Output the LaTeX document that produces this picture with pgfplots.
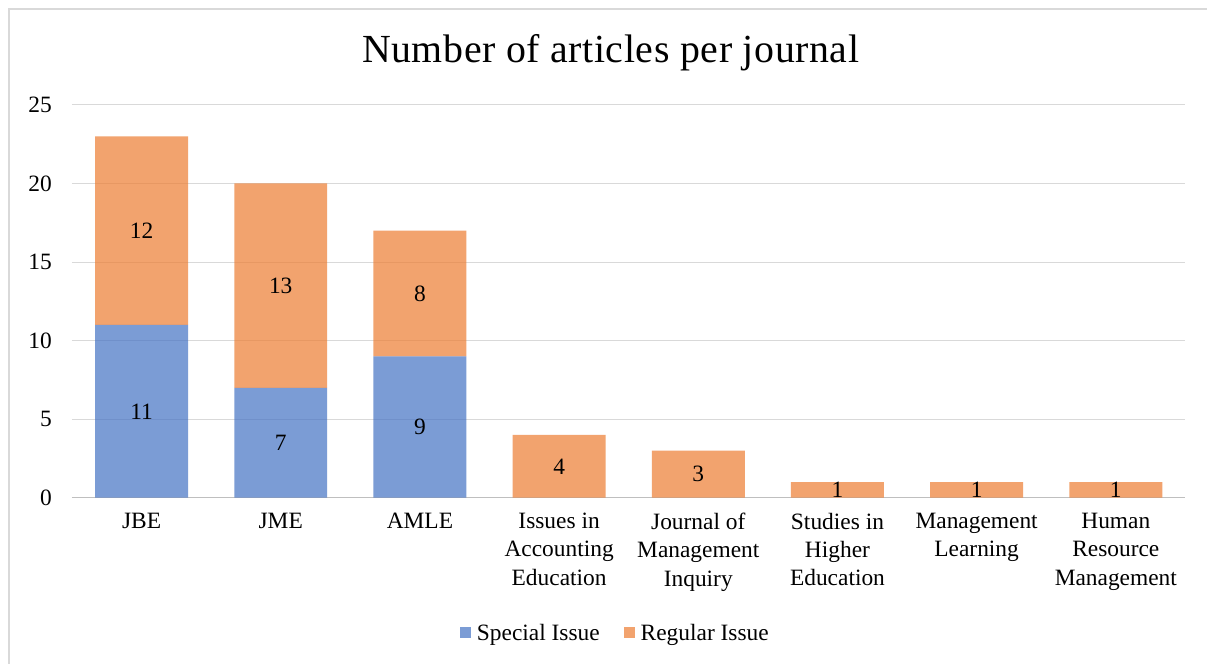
\documentclass[border=0pt]{standalone}
\usepackage{pgfplots}
\pgfplotsset{compat=1.18}
\usepackage{fontspec}
\setmainfont{Liberation Serif}
\definecolor{sblue}{HTML}{4472C4}
\definecolor{sorange}{HTML}{ED7D31}
\definecolor{gridc}{HTML}{D9D9D9}
\definecolor{axisc}{HTML}{BFBFBF}
\begin{document}
\begin{tikzpicture}[x=1bp,y=1bp]
\fill[white] (0,0) rectangle (1208,664);
\draw[gridc, line width=1.2bp] (9,0) -- (9,655) -- (1208,655);
\node[anchor=base, font=\fontsize{40}{48}\selectfont, inner sep=0pt] at (611,601) {\addfontfeatures{LetterSpace=1.5}Number of articles per journal};
\begin{axis}[
  at={(72bp,166bp)}, anchor=south west,
  scale only axis, width=1114bp, height=393bp,
  xmin=-0.5, xmax=7.5, ymin=0, ymax=25,
  ybar stacked, bar width=93bp,
  axis line style={draw=none},
  major tick length=0pt,
  ytick={0,5,10,15,20,25},
  ymajorgrids, grid style={draw=gridc, line width=1bp},
  xtick={0,1,2,3,4,5,6,7},
  xticklabels={JBE, JME, AMLE, {Issues in\\Accounting\\Education}, {Journal of\\Management\\Inquiry}, {Studies in\\Higher\\Education}, {Management\\Learning}, {Human\\Resource\\Management}},
  xticklabel style={align=center, inner sep=0pt, anchor=north, yshift=-15bp, font=\fontsize{23.5}{28.5}\selectfont},
  yticklabel style={inner sep=0pt, anchor=east, xshift=-20bp, font=\fontsize{23.5}{28.5}\selectfont},
  /pgf/number format/assume math mode=true,
  legend columns=2,
  legend style={at={(0.488,-0.3435)}, anchor=center, draw=none, fill=none,
    font=\fontsize{23.5}{28.5}\selectfont,
    /tikz/every odd column/.append style={column sep=4bp},
    /tikz/every even column/.append style={column sep=22bp}},
  legend image code/.code={\fill[#1] (0bp,-5bp) rectangle (11bp,6bp);},
]
\addplot[fill=sblue, draw=none, fill opacity=0.7] coordinates {(0,11) (1,7) (2,9) (3,0) (4,0) (5,0) (6,0) (7,0)};
\addlegendentry{Special Issue}
\addplot[fill=sorange, draw=none, fill opacity=0.7] coordinates {(0,12) (1,13) (2,8) (3,4) (4,3) (5,1) (6,1) (7,1)};
\addlegendentry{Regular Issue}
\draw[axisc, line width=1.3bp] (axis cs:-0.5,0) -- (axis cs:7.5,0);
\end{axis}
\begin{axis}[
  at={(72bp,166bp)}, anchor=south west,
  scale only axis, width=1114bp, height=393bp,
  xmin=-0.5, xmax=7.5, ymin=0, ymax=25,
  hide axis,
  point meta=explicit symbolic,
  nodes near coords,
  every node near coord/.append style={anchor=center, inner sep=0pt, font=\fontsize{23.5}{28.5}\selectfont},
]
\addplot[draw=none, mark=none, nodes near coords] coordinates {
  (0,5.5) [11] (1,3.5) [7] (2,4.5) [9]
  (0,17) [12] (1,13.5) [13] (2,13) [8]
  (3,2) [4] (4,1.5) [3] (5,0.5) [1] (6,0.5) [1] (7,0.5) [1]};
\end{axis}
\end{tikzpicture}
\end{document}
